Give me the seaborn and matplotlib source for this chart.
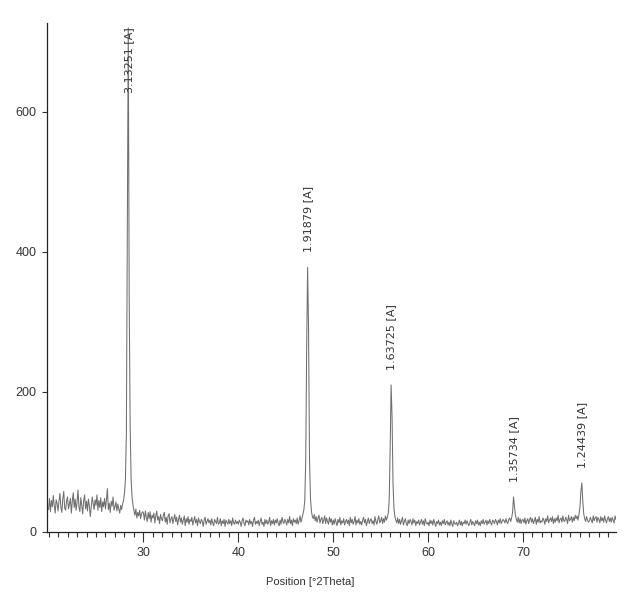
import numpy as np
import pandas as pd
import matplotlib
matplotlib.use("Agg")
import matplotlib.pyplot as plt
import seaborn as sns
from matplotlib.ticker import MultipleLocator

# XRD scan, 0.1 deg steps, counts
scan_start = 20.0
scan_step = 0.1

counts_20_29 = [
    32, 48, 29, 45, 36, 52, 38, 27, 46, 41,
    30, 44, 55, 35, 28, 47, 58, 34, 31, 45,
    50, 33, 40, 48, 27, 44, 56, 35, 47, 31,
    42, 60, 36, 29, 49, 38, 26, 45, 53, 33,
    44, 30, 47, 37, 22, 36, 50, 41, 32, 46,
    38, 53, 31, 45, 35, 49, 29, 43, 36, 48,
    33, 46, 62, 32, 41, 28, 44, 37, 50, 31,
    36, 43, 30, 40, 33, 27, 38, 32, 40, 45,
    55, 75, 140, 420, 720, 330, 150, 75, 50, 38,
    30, 24, 33, 20, 28, 23, 31, 19, 26, 29,
]
counts_30_39 = [
    27, 17, 30, 21, 15, 28, 19, 29, 14, 24,
    20, 27, 13, 23, 30, 17, 22, 12, 25, 19,
    16, 24, 28, 14, 21, 11, 23, 26, 13, 19,
    22, 12, 19, 25, 15, 21, 10, 18, 24, 14,
    20, 11, 17, 23, 9, 19, 14, 22, 11, 18,
    15, 21, 10, 16, 22, 13, 18, 9, 20, 15,
    12, 18, 15, 8, 17, 21, 11, 15, 19, 13,
    17, 10, 19, 13, 9, 18, 15, 12, 21, 11,
    13, 19, 9, 16, 12, 18, 8, 17, 14, 11,
    18, 12, 16, 9, 20, 13, 11, 17, 12, 15,
]
counts_40_49 = [
    11, 17, 14, 8, 16, 20, 12, 9, 17, 14,
    16, 10, 18, 12, 15, 8, 17, 21, 11, 15,
    12, 17, 9, 15, 20, 11, 14, 8, 18, 12,
    17, 11, 14, 21, 9, 16, 12, 18, 10, 17,
    13, 19, 12, 9, 17, 11, 21, 15, 12, 18,
    15, 10, 18, 13, 22, 12, 17, 9, 19, 14,
    17, 12, 20, 11, 16, 23, 14, 19, 25, 31,
    45, 100, 260, 378, 290, 105, 48, 30, 22, 19,
    25, 16, 22, 14, 20, 24, 13, 18, 21, 12,
    17, 23, 12, 20, 15, 11, 21, 14, 19, 10,
]
counts_50_59 = [
    17, 11, 19, 14, 9, 18, 13, 21, 10, 16,
    13, 19, 10, 15, 18, 12, 17, 9, 21, 13,
    18, 11, 15, 22, 10, 17, 13, 19, 11, 15,
    10, 17, 21, 13, 18, 9, 15, 20, 12, 17,
    19, 12, 16, 10, 22, 15, 11, 18, 23, 13,
    16, 21, 12, 19, 14, 23, 17, 21, 27, 45,
    120, 210, 165, 70, 34, 22, 17, 13, 20, 12,
    18, 11, 16, 21, 10, 15, 19, 12, 9, 17,
    12, 18, 15, 10, 19, 13, 17, 9, 15, 12,
    17, 10, 14, 18, 11, 16, 9, 19, 13, 11,
]
counts_60_69 = [
    14, 9, 17, 12, 16, 10, 18, 13, 8, 15,
    12, 17, 10, 14, 9, 16, 12, 18, 10, 14,
    16, 10, 14, 9, 17, 12, 8, 16, 12, 11,
    14, 9, 12, 17, 10, 15, 9, 14, 12, 17,
    11, 16, 12, 9, 14, 18, 10, 15, 12, 9,
    16, 12, 17, 10, 14, 9, 16, 12, 18, 11,
    14, 17, 10, 16, 12, 18, 13, 10, 17, 15,
    12, 18, 15, 10, 17, 13, 19, 12, 15, 18,
    16, 13, 19, 14, 12, 18, 20, 15, 20, 28,
    50, 37, 24, 18, 14, 21, 13, 19, 12, 17,
]
counts_70_79 = [
    18, 13, 20, 11, 16, 19, 12, 18, 21, 14,
    19, 12, 16, 21, 11, 18, 14, 22, 13, 16,
    14, 20, 17, 11, 19, 15, 23, 13, 17, 20,
    15, 22, 12, 19, 14, 20, 16, 24, 13, 18,
    20, 14, 23, 16, 15, 21, 18, 12, 24, 16,
    18, 22, 14, 21, 16, 24, 19, 23, 17, 25,
    35, 58, 70, 45, 26, 19, 15, 22, 17, 14,
    16, 21, 17, 13, 23, 16, 20, 22, 14, 21,
    18, 13, 22, 16, 20, 14, 23, 17, 13, 19,
    22, 15, 20, 14, 21, 17, 13, 23, 18, 16,
]

peak_pos = [28.4, 47.3, 56.1, 69.0, 76.2]
peak_d = ["3.13251", "1.91879", "1.63725", "1.35734", "1.24439"]

counts = np.array(counts_20_29 + counts_30_39 + counts_40_49
                  + counts_50_59 + counts_60_69 + counts_70_79, dtype=float)
two_theta = np.round(scan_start + scan_step * np.arange(len(counts)), 1)
df = pd.DataFrame({"two_theta": two_theta, "counts": counts})

sns.set_style("ticks")
plt.rcParams["font.family"] = ["Liberation Sans", "DejaVu Sans"]

fig = plt.figure(figsize=(6.26, 5.94), dpi=100)
ax = fig.add_axes([0.075, 0.1044, 0.909, 0.857])

sns.lineplot(data=df, x="two_theta", y="counts", ax=ax, color="#707070",
             linewidth=0.75, estimator=None)

ax.set_xlim(19.83, 79.8)
ax.set_ylim(0, 727)

# peak labels (d-spacing), rotated above each peak
for pos, d in zip(peak_pos, peak_d):
    h = df.loc[(df.two_theta - pos).abs() < 0.05, "counts"].max()
    ybase = min(h + 22, 627)
    ax.text(pos + 0.05, ybase, f"{d} [A]", rotation=90, ha="center", va="bottom",
            fontsize=8, family="DejaVu Sans", color="#333333", clip_on=False)

ax.xaxis.set_minor_locator(MultipleLocator(1))
ax.set_xticks([30, 40, 50, 60, 70])
ax.yaxis.set_major_locator(MultipleLocator(200))
ax.tick_params(axis="x", which="major", length=7.5, width=0.8, labelsize=9, pad=3, colors="#333333")
ax.tick_params(axis="x", which="minor", length=3.8, width=0.8, colors="#333333")
ax.tick_params(axis="y", which="major", length=3.8, width=0.8, labelsize=9, colors="#333333")

for side in ["top", "right"]:
    ax.spines[side].set_visible(False)
for side in ["left", "bottom"]:
    ax.spines[side].set_color("#222222")
    ax.spines[side].set_linewidth(0.9)

ax.set_xlabel("Position [°2Theta]", fontsize=8, color="#333333")
ax.xaxis.set_label_coords(0.462, -0.088)
ax.set_ylabel("")

fig.savefig("out.png", dpi=100, facecolor="white")
